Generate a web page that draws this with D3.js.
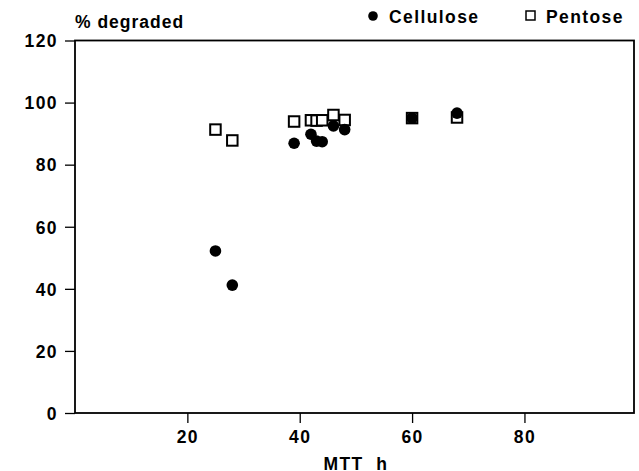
<!DOCTYPE html>
<html><head><meta charset="utf-8">
<script src="https://cdn.jsdelivr.net/npm/d3@7"></script>
<style>
body{margin:0;background:#fff;}
text{font-family:"Liberation Sans",Arial,Helvetica,sans-serif;font-weight:bold;fill:#000;}
</style></head><body>
<svg id="c" width="639" height="471"></svg>
<script>
const mtt = [25, 28, 39, 42, 43, 44, 46, 48, 60, 68];
const cellulose = [52.2, 41.2, 86.9, 89.8, 87.6, 87.4, 92.5, 91.3, 95.0, 96.6];
const pentose = [91.3, 87.8, 93.9, 94.3, 94.2, 94.3, 96.0, 94.4, 95.0, 95.2];
const xTicks = [20, 40, 60, 80];
const yTicks = [0, 20, 40, 60, 80, 100, 120];
const seriesNames = ["Cellulose", "Pentose"];

const svg = d3.select("#c");
const L = 75, R = 634, T = 40.5, B = 413;
const x = d3.scaleLinear().domain([0, 99.5]).range([L, R]);
const y = d3.scaleLinear().domain([0, 120]).range([B, T]);
const FS = 17.5, LS = 1.4;

svg.append("rect").attr("x", L).attr("y", T).attr("width", R - L).attr("height", B - T)
  .attr("fill", "none").attr("stroke", "#000").attr("stroke-width", 1.8);

const yAxis = d3.axisLeft(y).tickValues(yTicks).tickSize(10).tickPadding(7);
const gy = svg.append("g").attr("transform", `translate(${L},0)`).call(yAxis);
gy.select(".domain").remove();
gy.selectAll("line").attr("stroke-width", 1.3);
gy.selectAll("text").attr("font-size", FS).attr("letter-spacing", LS).attr("dy", "0.36em");

const xAxis = d3.axisBottom(x).tickValues(xTicks).tickSize(10).tickPadding(8);
const gx = svg.append("g").attr("transform", `translate(0,${B})`).call(xAxis);
gx.select(".domain").remove();
gx.selectAll("line").attr("stroke-width", 1.3);
gx.selectAll("text").attr("font-size", FS).attr("letter-spacing", LS);

svg.append("text").attr("x", L).attr("y", 28).attr("font-size", FS).attr("letter-spacing", 1.0).text("% degraded");
svg.append("text").attr("x", x(50)).attr("y", 470).attr("text-anchor", "middle")
  .attr("font-size", FS).attr("letter-spacing", LS).attr("xml:space", "preserve").text("MTT  h");

const s = 10.5;
svg.append("g").selectAll("rect").data(mtt).join("rect")
  .attr("x", (d) => x(d) - s / 2).attr("y", (d, i) => y(pentose[i]) - s / 2)
  .attr("width", s).attr("height", s)
  .attr("fill", "#fff").attr("stroke", "#000").attr("stroke-width", 2);

svg.append("g").selectAll("circle").data(mtt).join("circle")
  .attr("cx", (d) => x(d)).attr("cy", (d, i) => y(cellulose[i])).attr("r", 5.8)
  .attr("fill", "#000");

svg.append("circle").attr("cx", 373).attr("cy", 16).attr("r", 4.8).attr("fill", "#000");
svg.append("text").attr("x", 389).attr("y", 23).attr("font-size", FS).attr("letter-spacing", LS).text(seriesNames[0]);
svg.append("rect").attr("x", 526).attr("y", 11).attr("width", 9).attr("height", 9)
  .attr("fill", "#fff").attr("stroke", "#000").attr("stroke-width", 1.5);
svg.append("text").attr("x", 546).attr("y", 23).attr("font-size", FS).attr("letter-spacing", LS).text(seriesNames[1]);
</script></body></html>
